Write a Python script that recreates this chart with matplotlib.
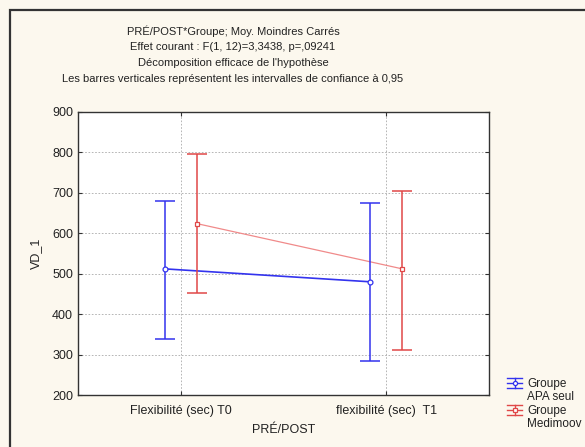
import numpy as np
import matplotlib
matplotlib.use("Agg")
import matplotlib.pyplot as plt
from matplotlib.patches import Rectangle
from matplotlib.lines import Line2D

plt.rcParams['font.family'] = ['Liberation Sans', 'DejaVu Sans']

categories = ['Flexibilité (sec) T0', 'flexibilité (sec)  T1']
groups = ['Groupe\nAPA seul', 'Groupe\nMedimoov']

apa_mean = [512, 480]
apa_low = [338, 283]
apa_high = [680, 676]

medi_mean = [624, 512]
medi_low = [452, 312]
medi_high = [796, 704]

title_lines = [
    "PRÉ/POST*Groupe; Moy. Moindres Carrés",
    "Effet courant : F(1, 12)=3,3438, p=,09241",
    "Décomposition efficace de l'hypothèse",
    "Les barres verticales représentent les intervalles de confiance à 0,95",
]

W, H = 585, 447
bg = '#fcf8ee'
fig = plt.figure(figsize=(W / 100, H / 100), dpi=100, facecolor=bg)
ax = fig.add_axes([78 / W, 1 - 395 / H, 411 / W, 283 / H])
ax.set_facecolor('white')

# outer frame (cut off at right and bottom)
fig.patches.append(Rectangle((10 / W, -0.1), 1.2, 1 - 10 / H + 0.1,
                             transform=fig.transFigure, fill=False,
                             edgecolor='#333333', linewidth=1.6))

x = np.arange(len(categories))
off = 0.078

blue = '#3333ee'
red = '#e04848'
pink = '#f08a8a'

ax.plot(x - off, apa_mean, color=blue, lw=1.2, zorder=3)
ax.plot(x + off, medi_mean, color=pink, lw=0.9, zorder=3)

for xi, m, lo, hi in zip(x - off, apa_mean, apa_low, apa_high):
    ax.errorbar([xi], [m], yerr=[[m - lo], [hi - m]], fmt='none',
                ecolor=blue, elinewidth=1.1, capsize=7, capthick=1.1, zorder=4)
for xi, m, lo, hi in zip(x + off, medi_mean, medi_low, medi_high):
    ax.errorbar([xi], [m], yerr=[[m - lo], [hi - m]], fmt='none',
                ecolor=red, elinewidth=1.1, capsize=7, capthick=1.1, zorder=4)

ax.plot(x - off, apa_mean, 'o', ms=3.5, mfc='white', mec=blue, mew=0.9, zorder=5)
ax.plot(x + off, medi_mean, 's', ms=3.5, mfc='white', mec=red, mew=0.9, zorder=5)

ax.set_xlim(-0.5, 1.5)
ax.set_ylim(200, 900)
ax.set_yticks(np.arange(200, 901, 100))
ax.set_xticks(x)
ax.set_xticklabels(categories)
ax.grid(True, color='#aaaaaa', linestyle=(0, (2, 2)), linewidth=0.6)
ax.set_axisbelow(True)
ax.tick_params(direction='in', length=3, labelsize=9, top=True, right=True,
               color='#333333', labelcolor='#222222')
ax.tick_params(axis='x', pad=7)
for s in ax.spines.values():
    s.set_color('#333333')
    s.set_linewidth(1.0)

ax.set_ylabel('VD_1', fontsize=9, color='#222222', labelpad=7)
ax.set_xlabel('PRÉ/POST', fontsize=9, color='#222222', labelpad=5)

for i, line in enumerate(title_lines):
    fig.text(233 / W, 1 - (31 + 16 * i) / H, line, ha='center', va='center',
             fontsize=8, color='#222222')

# legend, drawn by hand: errorbar glyph next to a two-line label
def px(xp, yp):
    return xp / W, 1 - yp / H

legend_items = [(groups[0], blue, 'o', 383), (groups[1], red, 's', 410)]
for label, col, mk, yc in legend_items:
    x0, x1, xc = 507, 522, 514.5
    for dy in (-5, 0, 5):
        (a, b), (c, d) = px(x0, yc + dy), px(x1, yc + dy)
        fig.add_artist(Line2D([a, c], [b, d], color=col, lw=1.0))
    (a, b), (c, d) = px(xc, yc - 5), px(xc, yc + 5)
    fig.add_artist(Line2D([a, c], [b, d], color=col, lw=1.0))
    a, b = px(xc, yc)
    fig.add_artist(Line2D([a], [b], marker=mk, ms=3, mfc='white', mec=col,
                          mew=0.9, color=col))
    tx, ty = px(527, yc - 5)
    fig.text(tx, ty, label, ha='left', va='top', fontsize=8.5,
             color='#222222', linespacing=1.12)

fig.savefig('out.png', dpi=100, facecolor=bg)
